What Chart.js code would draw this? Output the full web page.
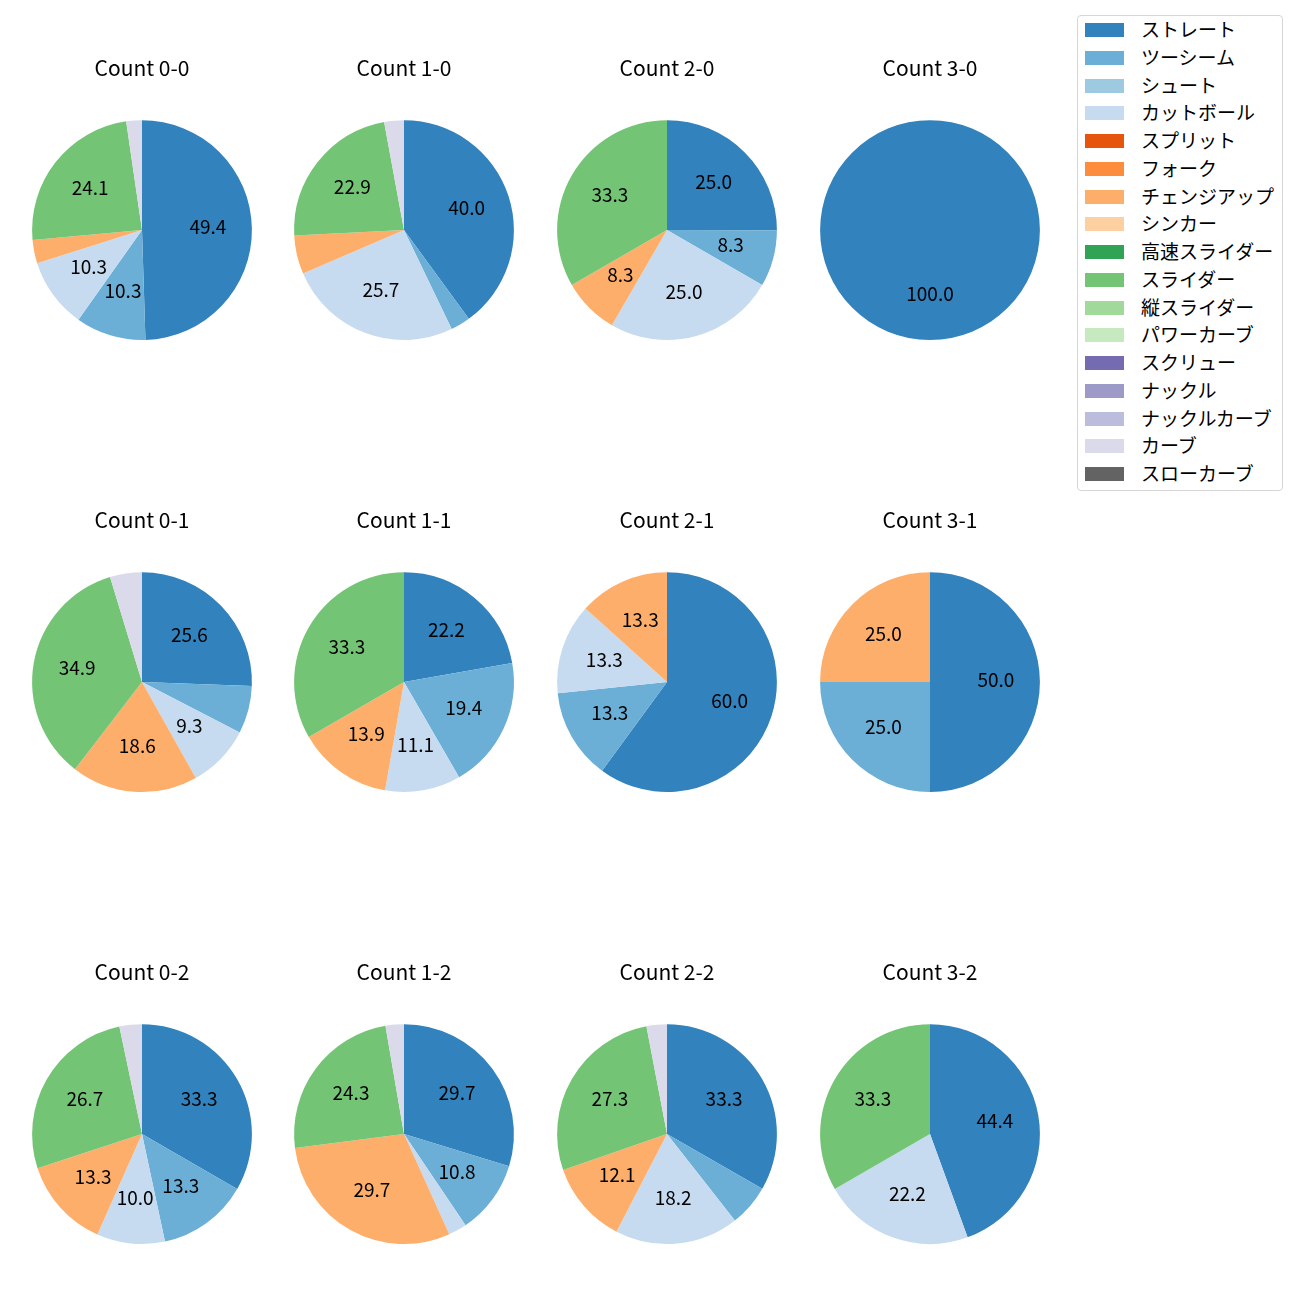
<!DOCTYPE html>
<html>
<head>
<meta charset="utf-8">
<script src="https://cdn.jsdelivr.net/npm/chart.js@4.4.1/dist/chart.umd.min.js"></script>
<style>
  body { margin: 0; background: #fff; font-family: "Noto Sans CJK JP", "Noto Sans", sans-serif; }
  #wrap { position: relative; width: 1300px; height: 1300px; }
  .cell { position: absolute; width: 262px; height: 310px; }
  #legend { position: absolute; left: 1077px; top: 15px; width: 206px; height: 476px;
            border: 1px solid #d6d6d6; border-radius: 4px; box-sizing: border-box; }
  .item { position: absolute; left: 0; height: 20px; font-size: 19px; line-height: 20px; color: #000; white-space: nowrap; }
  .patch { position: absolute; left: 7px; top: 4px; width: 39px; height: 14px; }
  .lbl { position: absolute; left: 63px; top: 0px; }
</style>
</head>
<body>
<div id="wrap">
  <div id="legend"></div>
</div>
<script>
// 球種
const pitchTypes = ['ストレート', 'ツーシーム', 'シュート', 'カットボール', 'スプリット', 'フォーク', 'チェンジアップ', 'シンカー',
  '高速スライダー', 'スライダー', '縦スライダー', 'パワーカーブ', 'スクリュー', 'ナックル', 'ナックルカーブ', 'カーブ', 'スローカーブ'];
const pitchColors = ['#3182bd', '#6baed6', '#9ecae1', '#c6dbef', '#e6550d', '#fd8d3c', '#fdae6b', '#fdd0a2',
  '#31a354', '#74c476', '#a1d99b', '#c7e9c0', '#756bb1', '#9e9ac8', '#bcbddc', '#dadaeb', '#636363'];

// カウント別の割合 (%)
const count00 = [49.4, 10.3, 0, 10.3, 0, 0, 3.4, 0, 0, 24.1, 0, 0, 0, 0, 0, 2.3, 0];
const count10 = [40.0, 2.9, 0, 25.7, 0, 0, 5.7, 0, 0, 22.9, 0, 0, 0, 0, 0, 2.9, 0];
const count20 = [25.0, 8.3, 0, 25.0, 0, 0, 8.3, 0, 0, 33.3, 0, 0, 0, 0, 0, 0, 0];
const count30 = [100.0, 0, 0, 0, 0, 0, 0, 0, 0, 0, 0, 0, 0, 0, 0, 0, 0];
const count01 = [25.6, 7.0, 0, 9.3, 0, 0, 18.6, 0, 0, 34.9, 0, 0, 0, 0, 0, 4.7, 0];
const count11 = [22.2, 19.4, 0, 11.1, 0, 0, 13.9, 0, 0, 33.3, 0, 0, 0, 0, 0, 0, 0];
const count21 = [60.0, 13.3, 0, 13.3, 0, 0, 13.3, 0, 0, 0, 0, 0, 0, 0, 0, 0, 0];
const count31 = [50.0, 25.0, 0, 0, 0, 0, 25.0, 0, 0, 0, 0, 0, 0, 0, 0, 0, 0];
const count02 = [33.3, 13.3, 0, 10.0, 0, 0, 13.3, 0, 0, 26.7, 0, 0, 0, 0, 0, 3.3, 0];
const count12 = [29.7, 10.8, 0, 2.7, 0, 0, 29.7, 0, 0, 24.3, 0, 0, 0, 0, 0, 2.7, 0];
const count22 = [33.3, 6.1, 0, 18.2, 0, 0, 12.1, 0, 0, 27.3, 0, 0, 0, 0, 0, 3.0, 0];
const count32 = [44.4, 0, 0, 22.2, 0, 0, 0, 0, 0, 33.3, 0, 0, 0, 0, 0, 0, 0];

const titles = ['Count 0-0', 'Count 1-0', 'Count 2-0', 'Count 3-0',
                'Count 0-1', 'Count 1-1', 'Count 2-1', 'Count 3-1',
                'Count 0-2', 'Count 1-2', 'Count 2-2', 'Count 3-2'];
const allCounts = [count00, count10, count20, count30, count01, count11, count21, count31, count02, count12, count22, count32];

const labelMin = 8; // これ未満はラベルなし

const colX = [142, 404, 667, 930];
const rowY = [230, 682, 1134];

// 割合ラベル (pctdistance 0.6)
const pctLabels = {
  id: 'pctLabels',
  afterDatasetsDraw(chart) {
    const ctx = chart.ctx;
    const meta = chart.getDatasetMeta(0);
    const vals = chart.data.datasets[0].data;
    ctx.save();
    ctx.font = '19px "Noto Sans CJK JP", sans-serif';
    ctx.fillStyle = '#000';
    ctx.textAlign = 'center';
    ctx.textBaseline = 'middle';
    meta.data.forEach((arc, i) => {
      if (vals[i] < labelMin) return;
      const mid = (arc.startAngle + arc.endAngle) / 2;
      const r = arc.outerRadius * 0.6;
      ctx.fillText(vals[i].toFixed(1), arc.x + Math.cos(mid) * r, arc.y + Math.sin(mid) * r - 2);
    });
    ctx.restore();
  }
};

const wrap = document.getElementById('wrap');
allCounts.forEach((vals, k) => {
  const cx = colX[k % 4], cy = rowY[Math.floor(k / 4)];
  const div = document.createElement('div');
  div.className = 'cell';
  div.style.left = (cx - 131) + 'px';
  div.style.top = (cy - 190) + 'px';
  const cv = document.createElement('canvas');
  div.appendChild(cv);
  wrap.appendChild(div);

  new Chart(cv, {
    type: 'pie',
    data: {
      labels: pitchTypes,
      datasets: [{ data: vals, backgroundColor: pitchColors, borderWidth: 0 }]
    },
    options: {
      responsive: true,
      maintainAspectRatio: false,
      animation: false,
      events: [],
      layout: { padding: { left: 21, right: 21, top: 0, bottom: 10 } },
      plugins: {
        legend: { display: false },
        tooltip: { enabled: false },
        title: {
          display: true,
          text: titles[k],
          color: '#000',
          font: { family: '"Noto Sans CJK JP", sans-serif', size: 21, weight: 'normal', lineHeight: 1.2 },
          padding: { top: 15, bottom: 40 }
        }
      }
    },
    plugins: [pctLabels]
  });
});

// 凡例
const legend = document.getElementById('legend');
pitchTypes.forEach((name, i) => {
  const item = document.createElement('div');
  item.className = 'item';
  item.style.top = (29 + 27.75 * i - 15 - 11) + 'px';
  item.innerHTML = '<span class="patch" style="background:' + pitchColors[i] + '"></span><span class="lbl">' + name + '</span>';
  legend.appendChild(item);
});
</script>
</body>
</html>
